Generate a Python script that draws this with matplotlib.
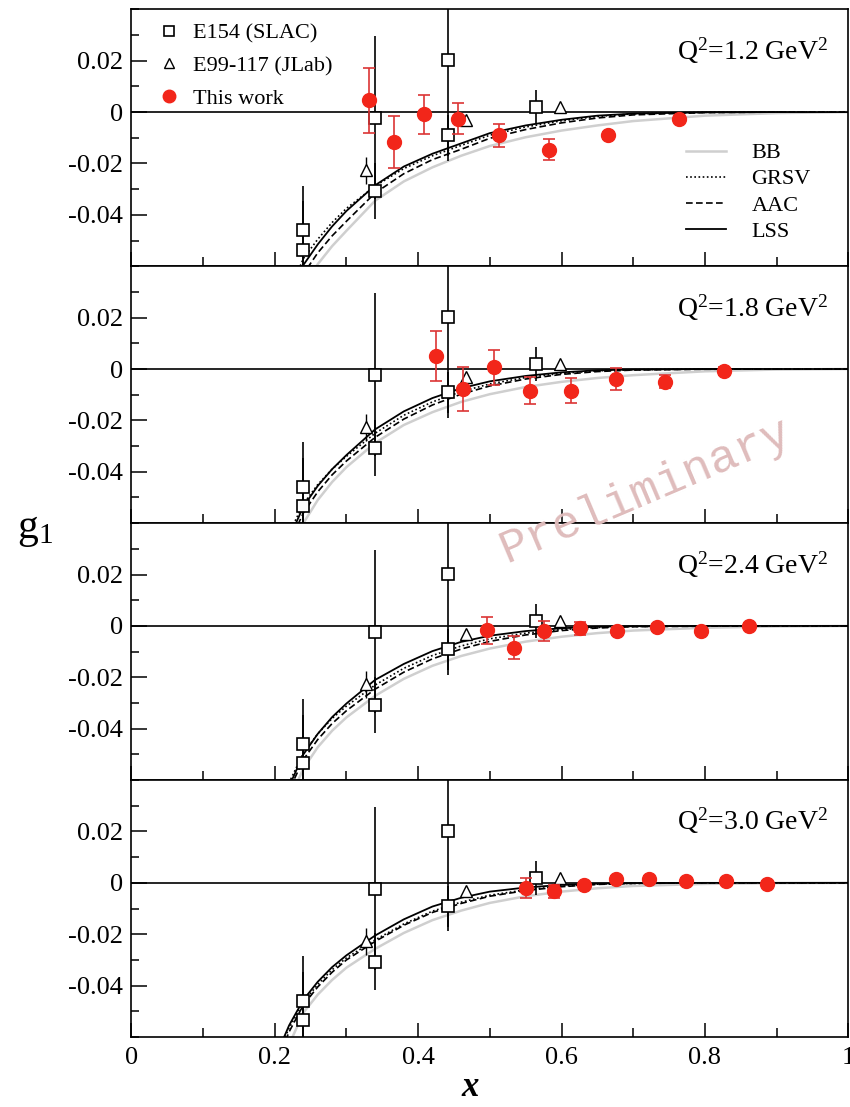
import matplotlib.pyplot as plt
import numpy as np
from matplotlib.lines import Line2D
from matplotlib.ticker import MultipleLocator

plt.rcParams['font.family'] = ['Liberation Serif', 'DejaVu Serif']
plt.rcParams['mathtext.fontset'] = 'custom'
plt.rcParams['mathtext.rm'] = 'Liberation Serif'
plt.rcParams['mathtext.it'] = 'Liberation Serif:italic'
plt.rcParams['mathtext.bf'] = 'Liberation Serif:bold'
plt.rcParams['mathtext.default'] = 'regular'
plt.rcParams['axes.unicode_minus'] = False

q2_labels = ["1.2", "1.8", "2.4", "3.0"]

# E154 (SLAC), same points in every panel
x_e154 = [0.240, 0.240, 0.340, 0.340, 0.441, 0.441, 0.565]
g1_e154 = [-0.0458, -0.0535, -0.0022, -0.0307, 0.0201, -0.0091, 0.0019]
err_e154 = [0.0172, 0.0190, 0.0317, 0.0110, 0.0390, 0.0080, 0.0065]

# E99-117 (JLab)
x_e99 = [0.327, 0.467, 0.598]
g1_e99 = [-0.0227, -0.0030, 0.0019]
err_e99 = [0.0052, 0.0015, 0.0010]

# this work, one set per Q^2
x_tw_12 = [0.331, 0.366, 0.408, 0.456, 0.513, 0.583, 0.665, 0.764]
g1_tw_12 = [0.0046, -0.0117, -0.0009, -0.0026, -0.0091, -0.0146, -0.0091, -0.0026]
err_tw_12 = [0.0127, 0.0102, 0.0077, 0.0060, 0.0044, 0.0040, 0.0015, 0.0012]

x_tw_18 = [0.425, 0.462, 0.506, 0.556, 0.613, 0.676, 0.745, 0.826]
g1_tw_18 = [0.0052, -0.0078, 0.0006, -0.0084, -0.0084, -0.0039, -0.0049, -0.0007]
err_tw_18 = [0.0097, 0.0084, 0.0068, 0.0052, 0.0050, 0.0042, 0.0025, 0.0015]

x_tw_24 = [0.496, 0.534, 0.576, 0.626, 0.678, 0.733, 0.795, 0.862]
g1_tw_24 = [-0.0017, -0.0084, -0.0019, -0.0009, -0.0019, -0.0006, -0.0019, 0.0]
err_tw_24 = [0.0053, 0.0044, 0.0038, 0.0025, 0.0015, 0.0015, 0.0012, 0.0010]

x_tw_30 = [0.551, 0.589, 0.631, 0.676, 0.722, 0.774, 0.830, 0.886]
g1_tw_30 = [-0.0019, -0.0033, -0.0010, 0.0016, 0.0016, 0.0009, 0.0009, -0.0004]
err_tw_30 = [0.0039, 0.0025, 0.0015, 0.0012, 0.0012, 0.0010, 0.0010, 0.0010]

# model curves
x_model = [0.21, 0.22, 0.24, 0.26, 0.28, 0.30, 0.34, 0.38, 0.42, 0.46, 0.50, 0.55, 0.60, 0.65, 0.70, 0.80, 0.90, 1.00]

lss_12 = [-0.082, -0.074, -0.0595, -0.0515, -0.0445, -0.0385, -0.0285, -0.0212, -0.0162, -0.0122, -0.0082, -0.0052, -0.0030, -0.0014, -0.0006, -0.0001, 0, 0]
grsv_12 = [-0.078, -0.070, -0.0570, -0.0495, -0.0430, -0.0375, -0.0288, -0.0220, -0.0170, -0.0130, -0.0090, -0.0058, -0.0034, -0.0017, -0.0007, -0.0001, 0, 0]
aac_12 = [-0.086, -0.078, -0.0630, -0.0548, -0.0482, -0.0425, -0.0315, -0.0240, -0.0185, -0.0145, -0.0102, -0.0068, -0.0042, -0.0023, -0.0011, -0.0002, 0, 0]
bb_12 = [-0.092, -0.083, -0.0680, -0.0592, -0.0522, -0.0462, -0.0345, -0.0270, -0.0215, -0.0170, -0.0132, -0.0098, -0.0072, -0.0052, -0.0035, -0.0014, -0.0004, 0]

lss_18 = [-0.072, -0.066, -0.0535, -0.0455, -0.0390, -0.0335, -0.0235, -0.0165, -0.0113, -0.0075, -0.0048, -0.0027, -0.0013, -0.0005, -0.0002, 0, 0, 0]
grsv_18 = [-0.071, -0.064, -0.0525, -0.0450, -0.0390, -0.0340, -0.0250, -0.0180, -0.0128, -0.0088, -0.0058, -0.0033, -0.0017, -0.0007, -0.0003, 0, 0, 0]
aac_18 = [-0.075, -0.068, -0.0560, -0.0478, -0.0412, -0.0358, -0.0266, -0.0195, -0.0140, -0.0098, -0.0066, -0.0039, -0.0021, -0.0010, -0.0004, -0.0001, 0, 0]
bb_18 = [-0.080, -0.073, -0.0600, -0.0510, -0.0440, -0.0382, -0.0288, -0.0218, -0.0168, -0.0128, -0.0098, -0.0070, -0.0050, -0.0035, -0.0024, -0.0009, -0.0002, 0]

lss_24 = [-0.068, -0.0625, -0.0500, -0.0420, -0.0355, -0.0302, -0.0210, -0.0148, -0.0098, -0.0062, -0.0038, -0.0020, -0.0009, -0.0003, -0.0001, 0, 0, 0]
grsv_24 = [-0.067, -0.061, -0.0495, -0.0420, -0.0360, -0.0312, -0.0230, -0.0165, -0.0115, -0.0078, -0.0050, -0.0028, -0.0014, -0.0006, -0.0002, 0, 0, 0]
aac_24 = [-0.070, -0.064, -0.0520, -0.0442, -0.0380, -0.0330, -0.0246, -0.0180, -0.0128, -0.0090, -0.0060, -0.0035, -0.0018, -0.0008, -0.0003, -0.0001, 0, 0]
bb_24 = [-0.075, -0.068, -0.0555, -0.0472, -0.0408, -0.0356, -0.0272, -0.0206, -0.0155, -0.0117, -0.0088, -0.0061, -0.0042, -0.0028, -0.0018, -0.0007, -0.0002, 0]

lss_30 = [-0.062, -0.0555, -0.0455, -0.0385, -0.0328, -0.0282, -0.0205, -0.0142, -0.0092, -0.0058, -0.0034, -0.0018, -0.0008, -0.0003, -0.0001, 0, 0, 0]
grsv_30 = [-0.063, -0.0565, -0.0465, -0.0395, -0.0338, -0.0292, -0.0222, -0.0160, -0.0110, -0.0075, -0.0048, -0.0027, -0.0013, -0.0005, -0.0002, 0, 0, 0]
aac_30 = [-0.065, -0.058, -0.0475, -0.0405, -0.0348, -0.0300, -0.0228, -0.0165, -0.0115, -0.0080, -0.0052, -0.0030, -0.0015, -0.0006, -0.0002, 0, 0, 0]
bb_30 = [-0.070, -0.063, -0.0505, -0.0435, -0.0378, -0.0330, -0.0257, -0.0195, -0.0145, -0.0108, -0.0078, -0.0052, -0.0034, -0.0021, -0.0012, -0.0004, -0.0001, 0]

x_tw = [x_tw_12, x_tw_18, x_tw_24, x_tw_30]
g1_tw = [g1_tw_12, g1_tw_18, g1_tw_24, g1_tw_30]
err_tw = [err_tw_12, err_tw_18, err_tw_24, err_tw_30]
lss = [lss_12, lss_18, lss_24, lss_30]
grsv = [grsv_12, grsv_18, grsv_24, grsv_30]
aac = [aac_12, aac_18, aac_24, aac_30]
bb = [bb_12, bb_18, bb_24, bb_30]

red = '#f2261a'
red_err = '#dc3535'

fig, axes = plt.subplots(4, 1, sharex=True, figsize=(8.5, 11.07), dpi=100)
fig.subplots_adjust(left=0.1545, right=0.998, top=0.9916, bottom=0.0632, hspace=0)

for i, ax in enumerate(axes):
    ax.axhline(0, color='black', lw=1.2, zorder=1)

    # model curves
    ax.plot(x_model, bb[i], color='#cfcfcf', lw=1.8, zorder=2)
    ax.plot(x_model, grsv[i], color='black', lw=1.2, ls=(0, (1, 1.5)), zorder=3)
    ax.plot(x_model, aac[i], color='black', lw=1.2, ls=(0, (4, 2)), zorder=3)
    ax.plot(x_model, lss[i], color='black', lw=1.3, zorder=3)

    # data
    ax.errorbar(x_e154, g1_e154, yerr=err_e154, fmt='s', ms=8.5, mfc='white', mec='black',
                mew=1.2, ecolor='black', elinewidth=1.2, capsize=0, zorder=5)
    ax.errorbar(x_e99, g1_e99, yerr=err_e99, fmt='^', ms=8, mfc='white', mec='black',
                mew=1.0, ecolor='black', elinewidth=1.0, capsize=0, zorder=5)
    ax.errorbar(x_tw[i], g1_tw[i], yerr=err_tw[i], fmt='o', ms=10, color=red, ecolor=red_err,
                elinewidth=1.2, capsize=4, capthick=1.2, zorder=6)

    ax.set_xlim(0, 1)
    ax.set_ylim(-0.06, 0.04)
    ax.set_yticks([-0.04, -0.02, 0, 0.02])
    ax.set_yticklabels(['-0.04', '-0.02', '0', '0.02'])
    ax.yaxis.set_minor_locator(MultipleLocator(0.01))
    ax.set_xticks([0, 0.2, 0.4, 0.6, 0.8, 1.0])
    ax.set_xticklabels(['0', '0.2', '0.4', '0.6', '0.8', '1'])
    ax.xaxis.set_minor_locator(MultipleLocator(0.1))
    ax.tick_params(which='both', direction='in', top=False, right=False, width=1.1, labelsize=19)
    ax.tick_params(axis='y', which='major', length=11.5, pad=6)
    ax.tick_params(axis='y', which='minor', length=6)
    ax.tick_params(axis='x', which='major', length=10, pad=7)
    ax.tick_params(axis='x', which='minor', length=6.5)
    for s in ax.spines.values():
        s.set_linewidth(1.2)

    ax.text(0.972, 0.84, 'Q$^2$=' + q2_labels[i] + ' GeV$^2$', transform=ax.transAxes,
            ha='right', va='center', fontsize=20)

# legends in the top panel
h_data = [Line2D([], [], ls='none', marker='s', ms=7, mfc='white', mec='black', mew=1.2),
          Line2D([], [], ls='none', marker='^', ms=7, mfc='white', mec='black', mew=1.0),
          Line2D([], [], ls='none', marker='o', ms=9, color=red)]
leg1 = axes[0].legend(h_data, ['E154 (SLAC)', 'E99-117 (JLab)', 'This work'], loc='center left',
                      bbox_to_anchor=(0.037, 0.78), frameon=False, fontsize=16, handlelength=1.0,
                      handletextpad=0.58, borderpad=0, borderaxespad=0, labelspacing=0.55)
axes[0].add_artist(leg1)

h_model = [Line2D([], [], color='#cfcfcf', lw=1.8),
           Line2D([], [], color='black', lw=1.2, ls=(0, (1, 1.5))),
           Line2D([], [], color='black', lw=1.2, ls=(0, (4, 2))),
           Line2D([], [], color='black', lw=1.3)]
axes[0].legend(h_model, ['BB', 'GRSV', 'AAC', 'LSS'], loc='center left', bbox_to_anchor=(0.774, 0.288),
               frameon=False, fontsize=16, handlelength=1.8, handletextpad=1.13, borderpad=0,
               borderaxespad=0, labelspacing=0.25)

axes[-1].set_xlabel('x', fontsize=25, fontweight='bold', style='italic')
axes[-1].xaxis.label.set_va('center')
axes[-1].xaxis.set_label_coords(0.472, -0.198)
fig.text(35 / 850, 1 - 530 / 1107, 'g$_1$', fontsize=30, ha='center', va='center')

# watermark
fig.text(0.759, 0.557, 'Preliminary', family='Liberation Mono', fontsize=34, color='#dfbcbc',
         rotation=23, ha='center', va='center')

fig.savefig('out.png', dpi=100)
